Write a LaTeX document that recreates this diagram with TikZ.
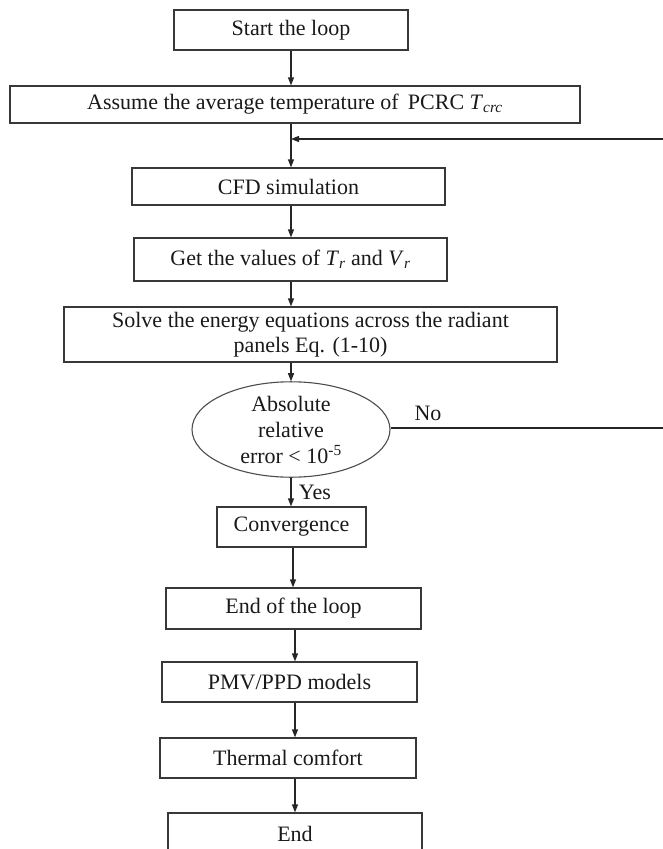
\documentclass[tikz,border=0pt]{standalone}
\usepackage{fontspec}
\setmainfont{Liberation Serif}
\usetikzlibrary{arrows.meta,shapes.geometric,calc}
\begin{document}
\begin{tikzpicture}[x=1pt,y=-1pt,
  every node/.style={font=\fontsize{22}{27}\selectfont, text=black!90},
  flowbox/.style={draw=black!78, line width=1.2pt, rectangle, inner sep=0pt, align=center},
  decide/.style={draw=black!70, line width=1.1pt, ellipse, inner sep=0pt, align=center,
                 minimum width=198pt, minimum height=87pt},
  conn/.style={draw=black!85, line width=1.2pt},
  arr/.style={conn, -{Triangle[length=8pt,width=6pt]}},
  lbl/.style={inner sep=0pt}]
\useasboundingbox (0,0) rectangle (662,849);
\node[flowbox, minimum width=234pt, minimum height=40pt] (b1) at (291,30) {Start the loop};
\node[flowbox, minimum width=570pt, minimum height=37pt] (b2) at (295,104.5)
  {Assume the average temperature of\, PCRC \textit{T}\textsubscript{\textit{crc}}};
\node[flowbox, minimum width=313pt, minimum height=37pt] (b3) at (288.5,186.5) {CFD simulation};
\node[flowbox, minimum width=313pt, minimum height=43pt] (b4) at (290.5,259.5)
  {Get the values of \textit{T}\textsubscript{\textit{r}} and \textit{V}\textsubscript{\textit{r}}};
\node[flowbox, minimum width=493pt, minimum height=55pt] (b5) at (310.5,334.5)
  {Solve the energy equations across the radiant\\[-2pt] panels Eq. (1-10)};
\node[decide] (ell) at (291,429.5) {Absolute\\[-1pt] relative\\[-1pt] error < 10\textsuperscript{-5}};
\node[flowbox, minimum width=149pt, minimum height=40pt] (b6) at (291.5,527) {Convergence};
\node[flowbox, minimum width=255pt, minimum height=41pt] (b7) at (293.5,608.5) {End of the loop};
\node[flowbox, minimum width=255pt, minimum height=40pt] (b8) at (289.5,682) {PMV/PPD models};
\node[flowbox, minimum width=256pt, minimum height=40pt] (b9) at (288,758) {Thermal comfort};
\node[flowbox, minimum width=254pt, minimum height=42pt] (b10) at (295,834) {End};
\node[lbl] (no) at (428,413) {No};
\node[lbl] (yes) at (315,492) {Yes};
\coordinate (r1) at (664,428);
\coordinate (r2) at (664,139);
\coordinate (ax2) at (293,0);
\coordinate (ax3) at (295,0);
\draw[arr] (b1.south) -- (b1.south |- b2.north);
\draw[arr] (b1.south |- b2.south) -- (b1.south |- b3.north);
\draw[arr] (b1.south |- b3.south) -- (b1.south |- b4.north);
\draw[arr] (b1.south |- b4.south) -- (b1.south |- b5.north);
\draw[arr] (b1.south |- b5.south) -- (ell.north);
\draw[arr] (ell.south) -- (ell.south |- b6.north);
\draw[arr] (b6.south -| ax2) -- (b7.north -| ax2);
\draw[arr] (b7.south -| ax3) -- (b8.north -| ax3);
\draw[arr] (b8.south -| ax3) -- (b9.north -| ax3);
\draw[arr] (b9.south -| ax3) -- (b10.north -| ax3);
\draw[conn] (ell.east |- r1) -- (r1) -- (r2);
\draw[arr] (r2) -- (b1.south |- r2);
\end{tikzpicture}
\end{document}
